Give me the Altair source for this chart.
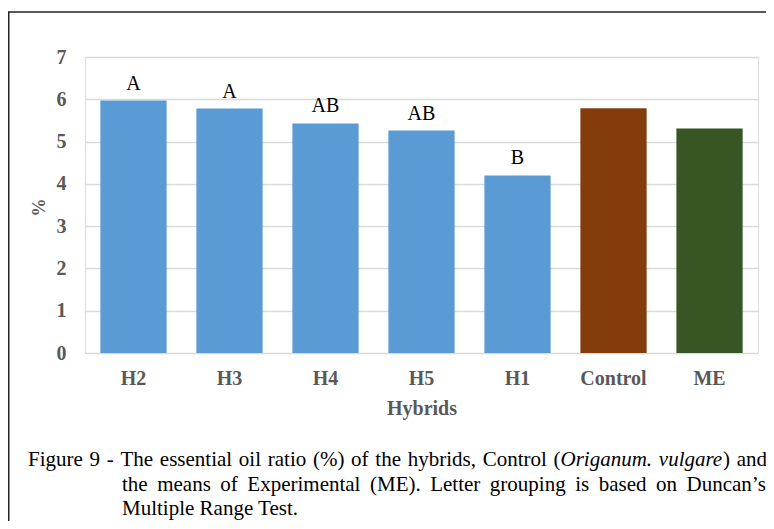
import altair as alt
import pandas as pd

categories = ["H2", "H3", "H4", "H5", "H1", "Control", "ME"]
values = [5.97, 5.78, 5.43, 5.26, 4.20, 5.79, 5.31]
letters = ["A", "A", "AB", "AB", "B", "", ""]
bar_colors = ["#5b9bd5", "#5b9bd5", "#5b9bd5", "#5b9bd5", "#5b9bd5", "#843c0c", "#375623"]
y_ticks = [0, 1, 2, 3, 4, 5, 6, 7]

df = pd.DataFrame({"cat": categories, "val": values, "letter": letters})

SERIF = "Liberation Serif"
GRAY = "#595959"
W, H = 673, 296
CAP_SIZE = 21

# Times-compatible advance widths (per 1 em) used to justify the caption lines
ROMAN = {" ": .25, "(": .333, ")": .333, "%": .833, ",": .25, ".": .25, "-": .333,
         "\u2019": .333, "9": .5, "A": .722, "B": .667, "C": .667, "D": .722, "E": .611,
         "F": .556, "L": .611, "M": .889, "R": .667, "T": .611, "a": .444, "b": .5,
         "c": .444, "d": .5, "e": .444, "f": .333, "g": .5, "h": .5, "i": .278,
         "l": .278, "m": .778, "n": .5, "o": .5, "p": .5, "r": .333, "s": .389,
         "t": .278, "u": .5, "v": .5, "x": .5, "y": .5}
ITALIC = {"O": .722, "r": .389, "i": .278, "g": .5, "a": .5, "n": .5, "u": .5,
          "m": .722, ".": .25, "v": .444, "l": .278, "e": .444, " ": .25}


def width(s, italic=False):
    table = ITALIC if italic else ROMAN
    return sum(table.get(ch, .5) for ch in s) * CAP_SIZE


x_enc = alt.X(
    "cat:N",
    sort=categories,
    scale=alt.Scale(paddingInner=0.31, paddingOuter=0.16),
    axis=alt.Axis(
        title="Hybrids", titleFont=SERIF, titleFontSize=20, titleFontWeight="bold",
        titleColor=GRAY, titleY=55, titleBaseline="middle",
        labelFont=SERIF, labelFontSize=20, labelFontWeight="bold", labelColor=GRAY,
        labelAngle=0, labelPadding=25, labelBaseline="middle",
        ticks=False, tickSize=0, domain=False, grid=False,
    ),
)
y_enc = alt.Y(
    "val:Q",
    scale=alt.Scale(domain=[0, 7], nice=False),
    axis=alt.Axis(
        values=y_ticks, title="%", titleFont=SERIF, titleFontSize=18,
        titleFontWeight="bold", titleColor=GRAY, titleX=-46, titleY=150,
        titleAngle=270, titleAlign="center", titleBaseline="middle",
        labelFont=SERIF, labelFontSize=20, labelFontWeight="bold", labelColor=GRAY,
        labelPadding=19, ticks=False, tickSize=0, domain=False,
        grid=True, gridColor="#d9d9d9", gridWidth=1.5,
    ),
)

bars = alt.Chart(df).mark_bar().encode(
    x=x_enc,
    y=y_enc,
    color=alt.Color("cat:N", scale=alt.Scale(domain=categories, range=bar_colors), legend=None),
)

labels = alt.Chart(df).mark_text(
    font=SERIF, fontSize=20, color="black", baseline="alphabetic", dy=-11
).encode(
    x=alt.X("cat:N", sort=categories),
    y=alt.Y("val:Q"),
    text="letter:N",
)

one = alt.Data(values=[{}])


def txt(s, x, y, style="normal"):
    return alt.Chart(one).mark_text(
        font=SERIF, fontSize=CAP_SIZE, color="black", align="left",
        baseline="alphabetic", fontStyle=style,
    ).encode(x=alt.value(x - 85), y=alt.value(y - 57), text=alt.value(s))


def justified(words, x0, x1, y):
    """words: list of words; each word is a list of (text, italic) pieces."""
    ws = [sum(width(t, it) for t, it in w) for w in words]
    gap = (x1 - x0 - sum(ws)) / (len(words) - 1)
    layers = []
    x = x0
    for w, wd in zip(words, ws):
        xx = x
        for t, it in w:
            layers.append(txt(t, xx, y, "italic" if it else "normal"))
            xx += width(t, it)
        x += wd + gap
    return layers


L1, L2, L3 = 466, 491, 515
line1 = [[(w, False)] for w in ["Figure", "9", "-", "The", "essential", "oil", "ratio",
                                "(%)", "of", "the", "hybrids,", "Control"]]
line1 += [[("(", False), ("Origanum.", True)], [("vulgare", True), (")", False)], [("and", False)]]
line2 = [[(w, False)] for w in ["the", "means", "of", "Experimental", "(ME).", "Letter",
                                "grouping", "is", "based", "on", "Duncan\u2019s"]]

cap = justified(line1, 28, 767, L1) + justified(line2, 122, 767, L2)
cap.append(txt("Multiple Range Test.", 122, L3))

border_top = alt.Chart(one).mark_rule(color="#222222", strokeWidth=1.5).encode(
    x=alt.value(5 - 85), x2=alt.value(780 - 85), y=alt.value(12 - 57)
)
border_left = alt.Chart(one).mark_rule(color="#222222", strokeWidth=1.5).encode(
    x=alt.value(8.75 - 85), y=alt.value(12 - 57), y2=alt.value(540 - 57)
)

chart = alt.layer(bars, labels, border_top, border_left, *cap).properties(
    width=W, height=H,
    autosize=alt.AutoSizeParams(type="none"),
    padding={"left": 77, "top": 49, "right": 8, "bottom": 168},
).configure_view(stroke=None).configure(background="white")

chart.save("out.html", embed_options={"renderer": "svg", "actions": False})
